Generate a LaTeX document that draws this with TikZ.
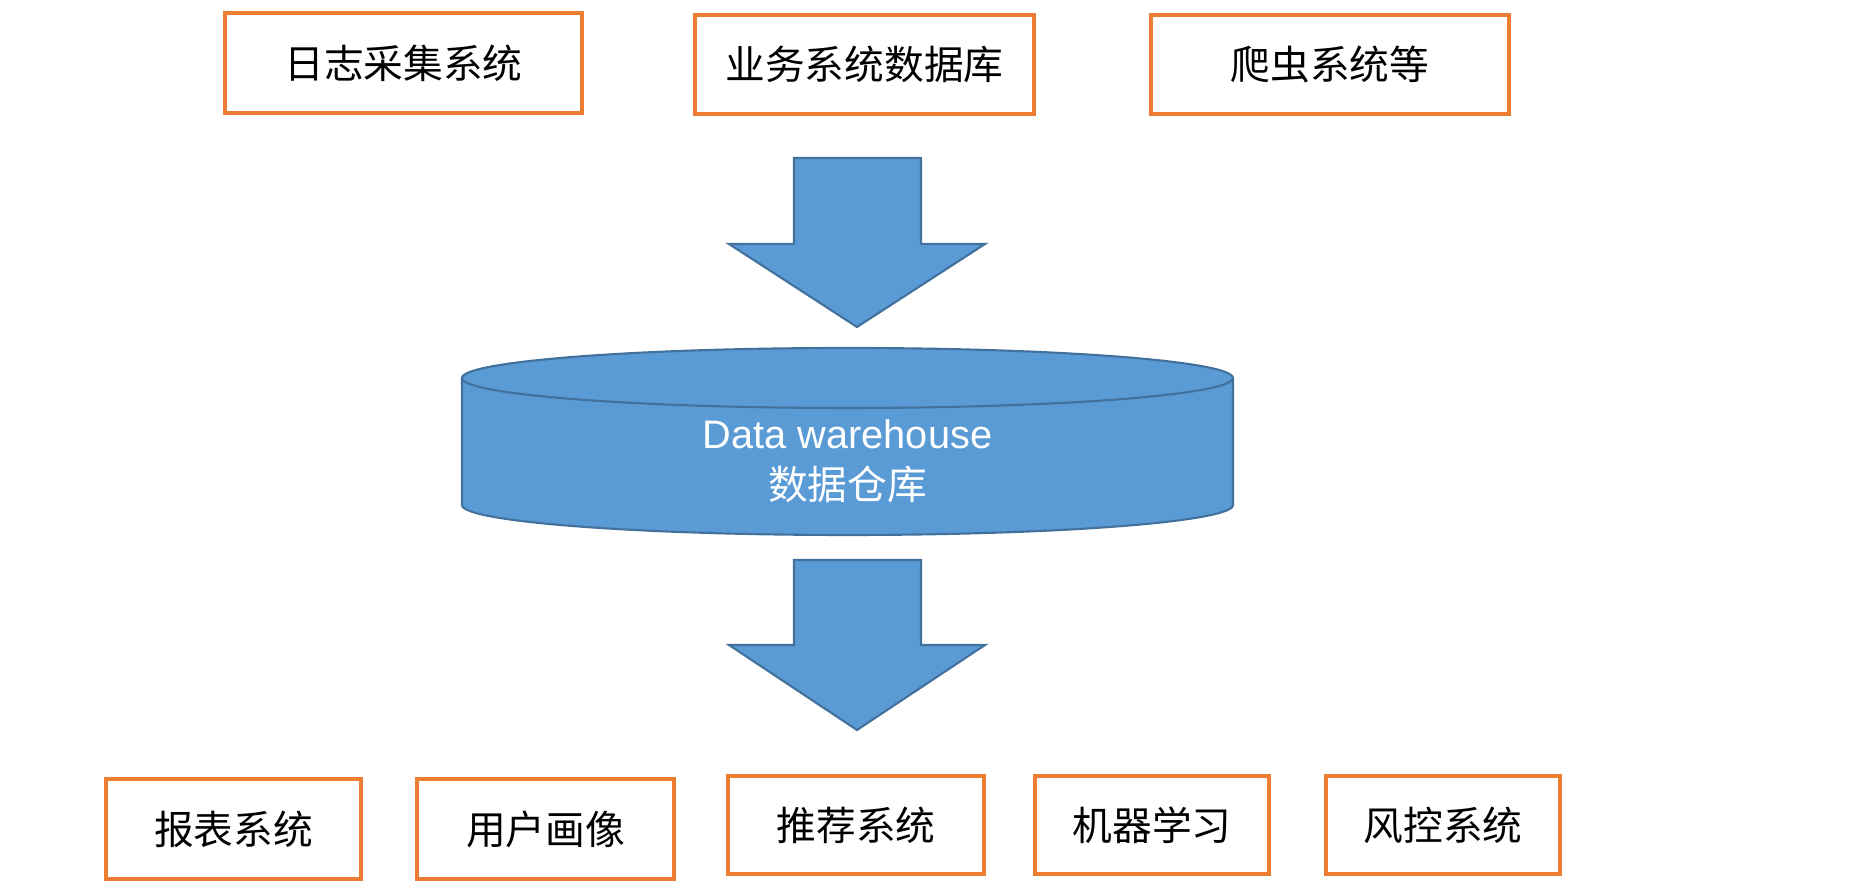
\documentclass[tikz,border=0pt]{standalone}
\usepackage{fontspec}
\setmainfont{Liberation Sans}
\newfontfamily\cjk{Noto Sans CJK SC}
\usetikzlibrary{calc}
\definecolor{boxorange}{HTML}{ED7D31}
\definecolor{dwblue}{HTML}{5B9BD5}
\definecolor{dwedge}{HTML}{41719C}

\begin{document}
\begin{tikzpicture}[x=0.01cm,y=-0.01cm,
  srcbox/.style={draw=boxorange,line width=0.9pt,fill=white,inner sep=0pt,
    font=\cjk\fontsize{11.3}{13.5}\selectfont,align=center},
  bigarrow/.style={fill=dwblue,draw=dwedge,line width=0.6pt,line join=miter},
  dwbody/.style={fill=dwblue,draw=dwedge,line width=0.6pt}]
\useasboundingbox (0,0) rectangle (1863,889);
% data sources
\node[srcbox,minimum width=357*0.01cm,minimum height=100*0.01cm] (logs) at (403.5,63) {日志采集系统};
\node[srcbox,minimum width=339*0.01cm,minimum height=99*0.01cm] (bizdb) at (864.5,64.5) {业务系统数据库};
\node[srcbox,minimum width=358*0.01cm,minimum height=99*0.01cm] (crawl) at (1330,64.5) {爬虫系统等};
% arrow into warehouse
\draw[bigarrow] (794,158) -- (921,158) -- (921,244) -- (985,244) -- (857,327)
  -- (729,244) -- (794,244) -- cycle;
% warehouse cylinder
\fill[dwblue] (462,378) -- (462,505) arc[start angle=180,end angle=0,x radius=385.5,y radius=30]
  -- (1233,378) -- cycle;
\draw[dwbody,fill=none] (462,378) -- (462,505) arc[start angle=180,end angle=0,x radius=385.5,y radius=30]
  -- (1233,378);
\draw[dwbody] (847.5,378) ellipse[x radius=385.5,y radius=30];
\node[align=center,text=white,font=\fontsize{11.3}{14.5}\selectfont] (dw) at (847.5,461)
  {Data warehouse\\{\cjk 数据仓库}};
% arrow out of warehouse
\draw[bigarrow] (794,560) -- (921,560) -- (921,645) -- (985,645) -- (857,730)
  -- (729,645) -- (794,645) -- cycle;
% applications
\node[srcbox,minimum width=255*0.01cm,minimum height=100*0.01cm] (report) at (233.5,829) {报表系统};
\node[srcbox,minimum width=257*0.01cm,minimum height=100*0.01cm] (profile) at (545.5,829) {用户画像};
\node[srcbox,minimum width=256*0.01cm,minimum height=98*0.01cm] (recsys) at (856,825) {推荐系统};
\node[srcbox,minimum width=234*0.01cm,minimum height=98*0.01cm] (ml) at (1152,825) {机器学习};
\node[srcbox,minimum width=234*0.01cm,minimum height=98*0.01cm] (risk) at (1443,825) {风控系统};
\end{tikzpicture}
\end{document}
